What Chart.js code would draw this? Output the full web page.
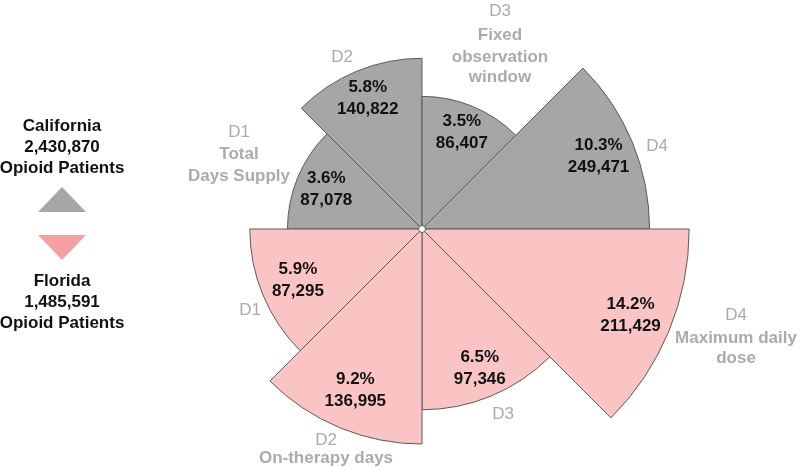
<!DOCTYPE html>
<html><head><meta charset="utf-8">
<script src="https://cdn.jsdelivr.net/npm/chart.js@4.4.1/dist/chart.umd.min.js"></script>
<style>html,body{margin:0;padding:0;background:#fff;overflow:hidden}#wrap{position:relative;width:800px;height:467px}</style>
</head><body><div id="wrap"><canvas id="c" width="800" height="467"></canvas></div>
<script>
// ---- data ----
const categories = ['D1', 'D2', 'D3', 'D4'];
const categoryNames = ['Total Days Supply', 'On-therapy days', 'Fixed observation window', 'Maximum daily dose'];
const states = ['California', 'Florida'];
const statePatients = [2430870, 1485591];
const caPct = [3.6, 5.8, 3.5, 10.3];
const caCount = [87078, 140822, 86407, 249471];
const flPct = [5.9, 9.2, 6.5, 14.2];
const flCount = [87295, 136995, 97346, 211429];

// ---- styles ----
const FONT = '"Liberation Sans", Arial, Helvetica, sans-serif';
const stateFill = ['#a6a6a6', '#fbc4c4'];
const legendTri = ['#a6a6a6', '#f5a0a2'];
const outerGray = '#ababab';

// slices clockwise from the left: CA D1..D4, then FL D4..D1
const slices = [];
categories.forEach((c, i) => slices.push({ state: 0, cat: i, pct: caPct[i], count: caCount[i] }));
for (let i = categories.length - 1; i >= 0; i--) slices.push({ state: 1, cat: i, pct: flPct[i], count: flCount[i] });

// inner label placement (fraction of outer radius), per slice order
const innerFrac = [0.77, 0.83, 0.785, 0.84, 0.845, 0.835, 0.81, 0.78];
// outer label placement relative to chart centre, per slice order
const outerLayout = [
  { dx: -183, lines: [[-97, 'cat'], [-75, 'name0'], [-53, 'name1']] },
  { dx: -80, lines: [[-172, 'cat']] },
  { dx: 78, lines: [[-218, 'cat'], [-194, 'name0'], [-172, 'name1'], [-152, 'name2']] },
  { dx: 235, lines: [[-83, 'cat']] },
  { dx: 314, lines: [[86, 'cat'], [109, 'name0'], [129, 'name1']] },
  { dx: 81, lines: [[185, 'cat']] },
  { dx: -96, lines: [[211, 'cat'], [229, 'name0']] },
  { dx: -172, lines: [[81, 'cat']] }
];
// how each category name is split into lines
const nameLines = [['Total', 'Days Supply'], ['On-therapy days'], ['Fixed', 'observation', 'window'], ['Maximum daily', 'dose']];

const fmt = n => n.toLocaleString('en-US');

const labelPlugin = {
  id: 'labels',
  afterDatasetsDraw(chart) {
    const ctx = chart.ctx;
    const meta = chart.getDatasetMeta(0);
    const scale = chart.scales.r;
    const cx = scale.xCenter, cy = scale.yCenter;
    ctx.save();
    ctx.textAlign = 'center';
    ctx.textBaseline = 'middle';
    meta.data.forEach((arc, i) => {
      const p = arc.getProps(['x', 'y', 'startAngle', 'endAngle', 'outerRadius'], true);
      const mid = (p.startAngle + p.endAngle) / 2;
      const r = p.outerRadius * innerFrac[i];
      const lx = p.x + Math.cos(mid) * r, ly = p.y + Math.sin(mid) * r;
      ctx.fillStyle = '#111';
      ctx.font = 'bold 17px ' + FONT;
      ctx.fillText(slices[i].pct.toFixed(1) + '%', lx, ly - 11);
      ctx.fillText(fmt(slices[i].count), lx, ly + 11);
      // outer labels
      const L = outerLayout[i];
      ctx.fillStyle = outerGray;
      L.lines.forEach(([dy, kind]) => {
        let txt;
        if (kind === 'cat') { txt = categories[slices[i].cat]; ctx.font = '17px ' + FONT; }
        else { txt = nameLines[slices[i].cat][+kind.slice(4)]; ctx.font = 'bold 17px ' + FONT; }
        ctx.fillText(txt, cx + L.dx, cy + dy);
      });
    });
    // centre dot
    ctx.beginPath();
    ctx.arc(cx, cy, 3.5, 0, Math.PI * 2);
    ctx.fillStyle = '#fff';
    ctx.fill();
    ctx.lineWidth = 1;
    ctx.strokeStyle = '#555';
    ctx.stroke();

    // state legend on the left
    const lxc = 62;
    ctx.fillStyle = '#111';
    ctx.font = 'bold 17px ' + FONT;
    ctx.fillText(states[0], lxc, 126);
    ctx.fillText(fmt(statePatients[0]), lxc, 147);
    ctx.fillText('Opioid Patients', lxc, 168);
    ctx.fillText(states[1], lxc, 281);
    ctx.fillText(fmt(statePatients[1]), lxc, 302);
    ctx.fillText('Opioid Patients', lxc, 323);
    ctx.beginPath();
    ctx.moveTo(lxc - 24, 212); ctx.lineTo(lxc + 24, 212); ctx.lineTo(lxc, 187); ctx.closePath();
    ctx.fillStyle = legendTri[0]; ctx.fill();
    ctx.beginPath();
    ctx.moveTo(lxc - 24, 235); ctx.lineTo(lxc + 24, 235); ctx.lineTo(lxc, 260); ctx.closePath();
    ctx.fillStyle = legendTri[1]; ctx.fill();
    ctx.restore();
  }
};

new Chart(document.getElementById('c'), {
  type: 'polarArea',
  data: {
    labels: slices.map(s => states[s.state] + ' ' + categories[s.cat]),
    datasets: [{
      data: slices.map(s => Math.sqrt(s.pct)), // area proportional to percentage
      backgroundColor: slices.map(s => stateFill[s.state]),
      borderColor: '#5a5a5a',
      borderWidth: 1,
      borderJoinStyle: 'miter',
      clip: false
    }]
  },
  options: {
    responsive: false,
    animation: false,
    events: [],
    layout: { padding: { left: 193, right: 149, top: 0, bottom: 9 } },
    plugins: { legend: { display: false }, tooltip: { enabled: false } },
    scales: {
      r: {
        display: false,
        min: 0,
        max: 3.23,
        startAngle: 270,
        ticks: { display: false }
      }
    }
  },
  plugins: [labelPlugin]
});
</script></body></html>
